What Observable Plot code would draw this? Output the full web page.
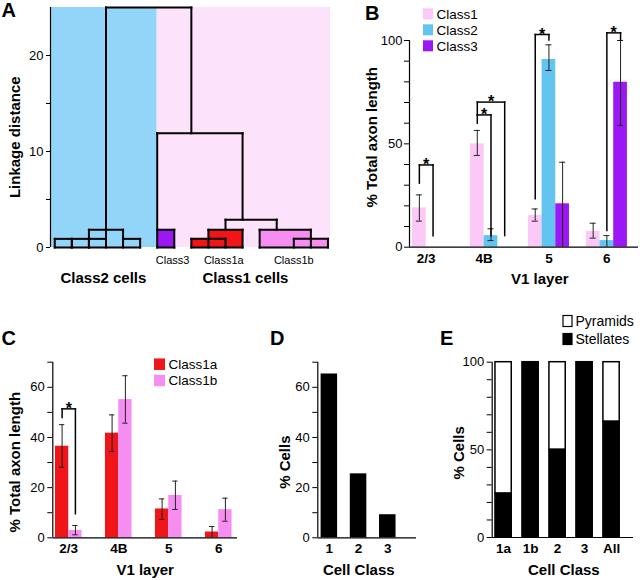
<!DOCTYPE html>
<html>
<head>
<meta charset="utf-8">
<script src="https://cdn.jsdelivr.net/npm/d3@7"></script>
<script src="https://cdn.jsdelivr.net/npm/@observablehq/plot@0.6"></script>
<style>
  body { margin: 0; background: #fff; }
  #fig { position: relative; width: 640px; height: 580px; overflow: hidden; background: #fff;
         font-family: "Liberation Sans", Arial, Helvetica, sans-serif; }
  #fig svg { position: absolute; overflow: visible; }
</style>
</head>
<body>
<div id="fig"></div>
<script>
// ---------------- DATA ----------------
// Panel A: dendrogram (leaf units on x, linkage distance on y)
// each merge: [left leaf, right leaf, merge height, left child height, right child height]
const dendroMerges = [
  [0, 1, 0.9, 0, 0], [1, 2, 0.9, 0, 0], [2, 3, 0.9, 0, 0], [4, 5, 0.9, 0, 0], [2, 4, 1.85, 0.9, 0.9],
  [6, 7, 1.85, 0, 0], [8, 10, 0.9, 0, 0], [9, 11, 1.85, 0, 0], [12, 15, 1.85, 0, 0], [14, 16, 0.9, 0, 0],
  [10, 13, 2.9, 1.85, 1.85], [6, 11, 11.9, 1.85, 2.9], [3, 8, 25, 0.9, 11.9]
];
const dendroBaselines = [[0, 5], [6, 7], [8, 11], [12, 16]];
const subclassBlocks = [ // [subclass, left leaf, right leaf, height]
  ["Class3", 6, 7, 1.85], ["Class1a", 8, 10, 0.9], ["Class1a", 9, 11, 1.85],
  ["Class1b", 12, 15, 1.85], ["Class1b", 14, 16, 0.9]
];
const subclassNames = ["Class3", "Class1a", "Class1b"];
const subclassLabelLeaf = [6.9, 9.9, 14];
const groupNames = ["Class2 cells", "Class1 cells"];
const groupLeafSpan = [[-0.25, 6], [6, 16.15]];
const groupLabelLeaf = [2.85, 11.17];
const linkageTicks = [0, 5, 10, 15, 20];

// Panel B: % total axon length per V1 layer, Class1/2/3
const layers = ["2/3", "4B", "5", "6"];
const classesB = ["Class1", "Class2", "Class3"];
const class1Mean = [19, 50, 15.3, 7.6];
const class1Lo   = [12.6, 44.4, 12.6, 4.4];
const class1Hi   = [25.3, 56.5, 18.5, 11.6];
const class2Mean = [0, 5.6, 90.8, 3.2];
const class2Lo   = [0, 3.2, 85.5, 0];
const class2Hi   = [0, 8.9, 97.9, 5.6];
const class3Mean = [0, 0, 21, 79.8];
const class3Lo   = [0, 0, 0, 58.9];
const class3Hi   = [0, 0, 41.1, 100];
// significance brackets: [layer, from class, to class, top, from-leg bottom, to-leg bottom]
const sigB = [
  ["2/3", "Class1", "Class2", 39.8, 31, 5.6],
  ["4B", "Class1", "Class2", 64, 60, 5.6],
  ["4B", "Class1", "Class3", 70.2, 64, 5.6],
  ["5", "Class1", "Class2", 102.9, 23.4, 100.3],
  ["6", "Class2", "Class3", 103.7, 8.1, 100.3]
];

// Panel C: Class1a vs Class1b
const classesC = ["Class1a", "Class1b"];
const class1aMean = [36.5, 41.7, 11.5, 2.3];
const class1aLo   = [28.1, 34.4, 7.3, 0];
const class1aHi   = [45.1, 49, 15.5, 4.5];
const class1bMean = [2.9, 55.1, 16.9, 11.2];
const class1bLo   = [1.2, 45.7, 11.3, 6.6];
const class1bHi   = [4.9, 64.6, 22.6, 15.8];
const sigC = [["2/3", "Class1a", "Class1b", 51.4, 48, 9.6]];

// Panel D: % cells per class
const cellClasses = ["1", "2", "3"];
const cellPct = [65.3, 25.5, 9.2];

// Panel E: morphology per class
const morphClasses = ["1a", "1b", "2", "3", "All"];
const stellatePct = [25, 100, 50, 100, 66];
const pyramidPct  = [75, 0, 50, 0, 34];

// ---------------- STYLE ----------------
const FONT = '"Liberation Sans", Arial, Helvetica, sans-serif';
const colors = {
  bgClass2: "#93d5f9", bgClass1: "#fde2fb",
  Class1: "#fbc8f7", Class2: "#62c4f1", Class3: "#9b18f4",
  Class1a: "#ef1518", Class1b: "#f68ef2"
};
const baseStyle = {fontFamily: FONT, fontSize: "13px", color: "black", background: "transparent", overflow: "visible"};
const fig = document.getElementById("fig");
function mount(svg, left, top) {
  svg.style.position = "absolute";
  svg.style.left = left + "px";
  svg.style.top = top + "px";
  fig.appendChild(svg);
}
const titleOpts = {fontSize: 15, fontWeight: "bold", text: d => d, textAnchor: "middle", lineAnchor: "middle"};

// ---------------- PANEL A ----------------
const segsA = [];
dendroMerges.forEach(([l, r, h, lb, rb]) => {
  segsA.push({x1: l, y1: lb, x2: l, y2: h}, {x1: r, y1: rb, x2: r, y2: h}, {x1: l, y1: h, x2: r, y2: h});
});
dendroBaselines.forEach(([a, b]) => segsA.push({x1: a, y1: 0, x2: b, y2: 0}));

const plotA = Plot.plot({
  width: 335, height: 290, marginLeft: 50, marginRight: 5, marginTop: 7, marginBottom: 43,
  x: {domain: [-0.25, 16.15], axis: null},
  y: {domain: [0, 25]},
  color: {type: "identity"},
  style: baseStyle,
  marks: [
    Plot.rect(groupNames, {x1: (d, i) => groupLeafSpan[i][0], x2: (d, i) => groupLeafSpan[i][1], y1: 0, y2: 25,
      fill: (d, i) => i === 0 ? colors.bgClass2 : colors.bgClass1}),
    Plot.rect(subclassBlocks, {x1: d => d[1], x2: d => d[2], y1: 0, y2: d => d[3], fill: d => colors[d[0]]}),
    Plot.link(segsA, {x1: "x1", y1: "y1", x2: "x2", y2: "y2", stroke: "black", strokeWidth: 2, strokeLinecap: "square"}),
    Plot.ruleX([-0.25], {y1: 0, y2: 25, stroke: "black", strokeWidth: 1.2}),
    Plot.axisY({ticks: linkageTicks, tickSize: 4, tickPadding: 3, tickFormat: d => d % 10 === 0 ? String(d) : "", label: null, fontSize: 13}),
    Plot.text(subclassNames, {x: (d, i) => subclassLabelLeaf[i], y: 0, dy: 13, fontSize: 11, text: d => d}),
    Plot.text(groupNames, {x: (d, i) => groupLabelLeaf[i], y: 0, dy: 31, ...titleOpts}),
    Plot.text(["Linkage distance"], {frameAnchor: "left", dx: -35, dy: 9.7, rotate: -90, ...titleOpts})
  ]
});
mount(plotA, 0, 0);

// ---------------- helpers for grouped bars ----------------
function groupedBars(cats, classes, means, los, his, off, step) {
  const bars = [];
  cats.forEach((cat, i) => classes.forEach((cls, k) => {
    const x1 = off + i * step + k;
    bars.push({cat, cls, x1, x2: x1 + 1, xc: x1 + 0.5, mean: means[k][i], lo: los[k][i], hi: his[k][i]});
  }));
  return bars;
}
function bracketMarks(sig, cats, classes, off, step) {
  const xc = (cat, cls) => off + cats.indexOf(cat) * step + classes.indexOf(cls) + 0.5;
  const segs = [], stars = [];
  sig.forEach(([cat, a, b, top, ba, bb]) => {
    const xa = xc(cat, a), xb = xc(cat, b);
    segs.push({x1: xa, y1: ba, x2: xa, y2: top}, {x1: xb, y1: bb, x2: xb, y2: top}, {x1: xa, y1: top, x2: xb, y2: top});
    stars.push({x: (xa + xb) / 2, y: top});
  });
  return [
    Plot.link(segs, {x1: "x1", y1: "y1", x2: "x2", y2: "y2", stroke: "black", strokeWidth: 1.5, strokeLinecap: "square"}),
    Plot.text(stars, {x: "x", y: "y", text: () => "*", fontSize: 16, fontWeight: "bold", dy: 0})
  ];
}
function errorMarks(bars, cap) {
  const e = bars.filter(d => d.hi > 0);
  return [
    Plot.ruleX(e, {x: "xc", y1: "lo", y2: "hi", stroke: "#222", strokeWidth: 1}),
    Plot.ruleY(e, {y: "hi", x1: d => d.xc - cap, x2: d => d.xc + cap, stroke: "#222", strokeWidth: 1}),
    Plot.ruleY(e.filter(d => d.lo > 0), {y: "lo", x1: d => d.xc - cap, x2: d => d.xc + cap, stroke: "#222", strokeWidth: 1})
  ];
}

// ---------------- PANEL B ----------------
const B_OFF = 0.22, B_STEP = 4.23;
const meansB = [class1Mean, class2Mean, class3Mean];
const barsB = groupedBars(layers, classesB, meansB, [class1Lo, class2Lo, class3Lo], [class1Hi, class2Hi, class3Hi], B_OFF, B_STEP);
const tickPosB = layers.map((l, i) => B_OFF + i * B_STEP + Math.max(1, meansB.filter(m => m[i] > 0).length / 2));
const labelB = new Map(tickPosB.map((p, i) => [p, layers[i]]));

const plotB = Plot.plot({
  width: 310, height: 290, marginLeft: 79, marginRight: 2, marginTop: 40, marginBottom: 43.3,
  x: {domain: [0, 16.72]},
  y: {domain: [0, 100]},
  color: {type: "identity"},
  style: baseStyle,
  marks: [
    Plot.rect(barsB.filter(d => d.mean > 0), {x1: "x1", x2: "x2", y1: 0, y2: "mean", fill: d => colors[d.cls]}),
    ...errorMarks(barsB, 0.22),
    ...bracketMarks(sigB, layers, classesB, B_OFF, B_STEP),
    Plot.ruleY([0], {stroke: "black", strokeWidth: 1.2}),
    Plot.ruleX([0], {y1: 0, y2: 100, stroke: "black", strokeWidth: 1.2}),
    Plot.axisY({ticks: d3.range(0, 101, 10), tickSize: 5, tickPadding: 2, tickFormat: d => d % 50 === 0 ? String(d) : "", label: null, fontSize: 13}),
    Plot.axisX({ticks: tickPosB, tickFormat: d => labelB.get(d), tickSize: 0, tickPadding: 6, label: null, fontSize: 13.5, fontWeight: "bold"}),
    Plot.text(["V1 layer"], {frameAnchor: "bottom", dx: 15.8, dy: 31.6, ...titleOpts}),
    Plot.text(["% Total axon length"], {frameAnchor: "left", dx: -37.3, dy: -6.6, rotate: -90, ...titleOpts})
  ]
});
mount(plotB, 330, 0);

// ---------------- PANEL C ----------------
const C_OFF = 0.2, C_STEP = 3.76;
const barsC = groupedBars(layers, classesC, [class1aMean, class1bMean], [class1aLo, class1bLo], [class1aHi, class1bHi], C_OFF, C_STEP);
const tickPosC = layers.map((l, i) => C_OFF + i * C_STEP + 1);
const labelC = new Map(tickPosC.map((p, i) => [p, layers[i]]));

const plotC = Plot.plot({
  width: 245, height: 280, marginLeft: 52.3, marginRight: 8, marginTop: 61.7, marginBottom: 42.7,
  x: {domain: [0, 13.89]},
  y: {domain: [0, 70]},
  color: {type: "identity"},
  style: baseStyle,
  marks: [
    Plot.rect(barsC.filter(d => d.mean > 0), {x1: "x1", x2: "x2", y1: 0, y2: "mean", fill: d => colors[d.cls]}),
    ...errorMarks(barsC, 0.2),
    ...bracketMarks(sigC, layers, classesC, C_OFF, C_STEP),
    Plot.ruleY([0], {stroke: "black", strokeWidth: 1.2}),
    Plot.ruleX([0], {y1: 0, y2: 70, stroke: "black", strokeWidth: 1.2}),
    Plot.axisY({ticks: d3.range(0, 71, 10), tickSize: 5, tickPadding: 3, tickFormat: d => d % 20 === 0 ? String(d) : "", label: null, fontSize: 13}),
    Plot.axisX({ticks: tickPosC, tickFormat: d => labelC.get(d), tickSize: 0, tickPadding: 6, label: null, fontSize: 13.5, fontWeight: "bold"}),
    Plot.text(["V1 layer"], {frameAnchor: "bottom", dx: 0, dy: 32.7, ...titleOpts}),
    Plot.text(["% Total axon length"], {frameAnchor: "left", dx: -37.3, dy: 12.2, rotate: -90, ...titleOpts})
  ]
});
mount(plotC, 0, 300);

// ---------------- PANEL D ----------------
const D_OFF = 0.2, D_STEP = 1.77;
const barsD = cellClasses.map((c, i) => ({c, x1: D_OFF + i * D_STEP, x2: D_OFF + i * D_STEP + 1, v: cellPct[i]}));
const tickPosD = barsD.map(d => (d.x1 + d.x2) / 2);
const labelD = new Map(tickPosD.map((p, i) => [p, cellClasses[i]]));

const plotD = Plot.plot({
  width: 170, height: 280, marginLeft: 67.3, marginRight: 4, marginTop: 61.7, marginBottom: 42.7,
  x: {domain: [0, 5.98]},
  y: {domain: [0, 70]},
  style: baseStyle,
  marks: [
    Plot.rect(barsD, {x1: "x1", x2: "x2", y1: 0, y2: "v", fill: "black"}),
    Plot.ruleY([0], {stroke: "black", strokeWidth: 1.2}),
    Plot.ruleX([0], {y1: 0, y2: 70, stroke: "black", strokeWidth: 1.2}),
    Plot.axisY({ticks: d3.range(0, 71, 10), tickSize: 5, tickPadding: 3, tickFormat: d => d % 20 === 0 ? String(d) : "", label: null, fontSize: 13}),
    Plot.axisX({ticks: tickPosD, tickFormat: d => labelD.get(d), tickSize: 0, tickPadding: 6, label: null, fontSize: 13.5, fontWeight: "bold"}),
    Plot.text(["Cell Class"], {frameAnchor: "bottom", dx: -8.4, dy: 32.7, ...titleOpts}),
    Plot.text(["% Cells"], {frameAnchor: "left", dx: -32.3, dy: 12.2, rotate: -90, ...titleOpts})
  ]
});
mount(plotD, 250, 300);

// ---------------- PANEL E ----------------
const E_OFF = 0.2, E_STEP = 1.656;
const barsE = morphClasses.map((c, i) => ({c, x1: E_OFF + i * E_STEP, x2: E_OFF + i * E_STEP + 1, s: stellatePct[i], p: pyramidPct[i]}));
const tickPosE = barsE.map(d => (d.x1 + d.x2) / 2);
const labelE = new Map(tickPosE.map((p, i) => [p, morphClasses[i]]));

const plotE = Plot.plot({
  width: 220, height: 280, marginLeft: 71.7, marginRight: 7, marginTop: 61.7, marginBottom: 43,
  x: {domain: [0, 8.67]},
  y: {domain: [0, 100]},
  style: baseStyle,
  marks: [
    Plot.rect(barsE.filter(d => d.p > 0), {x1: "x1", x2: "x2", y1: "s", y2: d => d.s + d.p, fill: "white", stroke: "black", strokeWidth: 1.5}),
    Plot.rect(barsE, {x1: "x1", x2: "x2", y1: 0, y2: "s", fill: "black", stroke: "black", strokeWidth: 1.5}),
    Plot.ruleY([0], {stroke: "black", strokeWidth: 1.2}),
    Plot.ruleX([0], {y1: 0, y2: 100, stroke: "black", strokeWidth: 1.2}),
    Plot.axisY({ticks: d3.range(0, 101, 10), tickSize: 5, tickPadding: 3, tickFormat: d => d % 50 === 0 ? String(d) : "", label: null, fontSize: 13}),
    Plot.axisX({ticks: tickPosE, tickFormat: d => labelE.get(d), tickSize: 0, tickPadding: 6, label: null, fontSize: 13.5, fontWeight: "bold"}),
    Plot.text(["Cell Class"], {frameAnchor: "bottom", dx: 1, dy: 33, ...titleOpts}),
    Plot.text(["% Cells"], {frameAnchor: "left", dx: -33.4, dy: 3, rotate: -90, ...titleOpts})
  ]
});
mount(plotE, 420, 300);

// ---------------- OVERLAY: panel letters and legends ----------------
const overlay = d3.create("svg").attr("width", 640).attr("height", 580)
  .style("left", "0px").style("top", "0px").style("pointer-events", "none")
  .style("font-family", FONT);
const letters = [["A", 1.5, 16.7], ["B", 365, 20], ["C", 1.5, 345], ["D", 270, 345], ["E", 440, 345]];
overlay.selectAll("text.letter").data(letters).join("text")
  .attr("class", "letter").attr("x", d => d[1]).attr("y", d => d[2])
  .attr("font-size", 20).attr("font-weight", "bold").text(d => d[0]);

function legend(items, x, y0, step, sw, sh, fontSize) {
  const g = overlay.append("g");
  items.forEach(([label, fill, stroke], i) => {
    const cy = y0 + i * step;
    g.append("rect").attr("x", x).attr("y", cy - sh / 2).attr("width", sw).attr("height", sh)
      .attr("fill", fill).attr("stroke", stroke || "none").attr("stroke-width", stroke ? 1.2 : 0);
    g.append("text").attr("x", x + sw + 3.5).attr("y", cy).attr("dy", "0.35em")
      .attr("font-size", fontSize).text(label);
  });
}
legend(classesB.map(c => [c, colors[c]]), 423, 13.8, 16, 10, 11, 13.5);
legend(classesC.map(c => [c, colors[c]]), 154, 364.2, 16.3, 11, 11.5, 13.5);
legend([["Pyramids", "white", "black"], ["Stellates", "black", "black"]], 563, 321, 18, 9, 11, 14);
fig.appendChild(overlay.node());
</script>
</body>
</html>
